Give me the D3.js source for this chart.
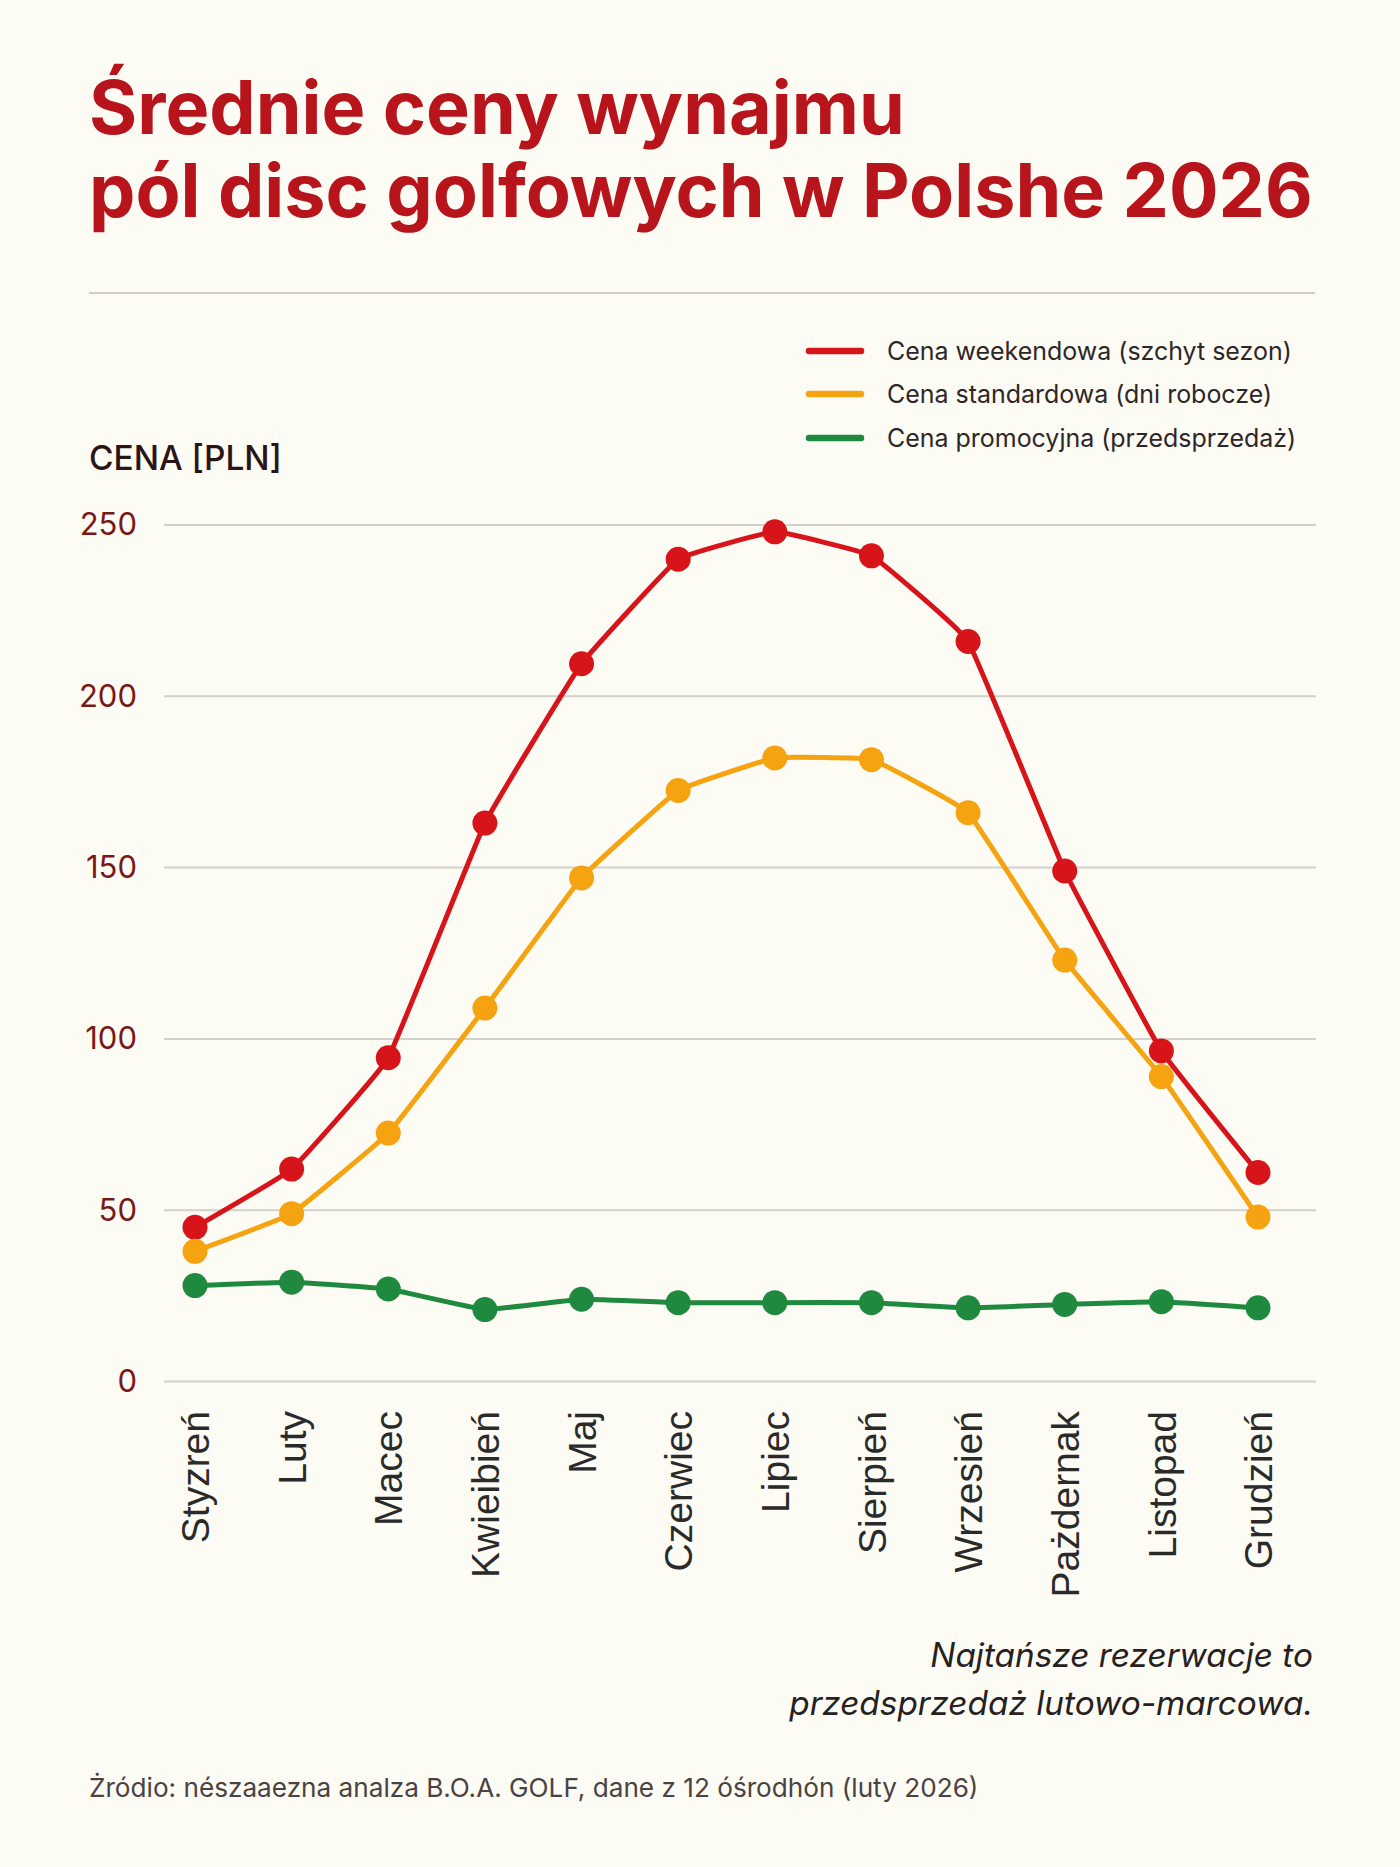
<!DOCTYPE html>
<html>
<head>
<meta charset="utf-8">
<script src="https://cdn.jsdelivr.net/npm/d3@7"></script>
<style>
    html, body { margin: 0; padding: 0; background: #fcfbf4; }
    svg { display: block; }
</style>
</head>
<body>
<div id="chartDiv"></div>
<script>
/*****************************************************************************/
/* Data */
/*****************************************************************************/
var months = ["Styzreń", "Luty", "Macec", "Kwieibień", "Maj", "Czerwiec",
    "Lipiec", "Sierpień", "Wrzesień", "Pażdernak", "Listopad", "Grudzień"];
var weekendPrices = [45, 62, 94.5, 163, 209.5, 240, 248, 241, 216, 149, 96.5, 61];
var standardPrices = [38, 49, 72.5, 109, 147, 172.5, 182, 181.5, 166, 123, 89, 48];
var promoPrices = [28, 29, 27, 21, 24, 23, 23, 23, 21.5, 22.5, 23.3, 21.5];
var seriesNames = ["Cena weekendowa (szchyt sezon)", "Cena standardowa (dni robocze)",
    "Cena promocyjna (przedsprzedaż)"];
var yTicks = [0, 50, 100, 150, 200, 250];

/*****************************************************************************/
/* Setup */
/*****************************************************************************/
var width = 1400;
var height = 1867;
var colors = ["#d8141b", "#f6a312", "#1f8a3f"];
var textFont = "Inter, 'Liberation Sans', sans-serif";

var svg = d3.select("#chartDiv").append("svg")
    .attr("width", width)
    .attr("height", height);

svg.append("rect")
    .attr("width", width)
    .attr("height", height)
    .attr("fill", "#fcfbf4");

// Font size that makes a text element as wide as targetWidth
var fitSize = function(sel, targetWidth) {
    var size = parseFloat(sel.style("font-size"));
    var w = sel.node().getComputedTextLength();
    return size * targetWidth / w;
}
var fitText = function(sel, targetWidth) {
    var s = fitSize(sel, targetWidth);
    sel.style("font-size", s + "px");
    return s;
}

// Title
var title1 = svg.append("text")
    .attr("x", 89).attr("y", 134)
    .style("font-family", textFont)
    .style("font-weight", "700")
    .style("font-size", "60px")
    .style("fill", "#b8141c")
    .text("Średnie ceny wynajmu");
var title2 = svg.append("text")
    .attr("x", 89).attr("y", 217)
    .style("font-family", textFont)
    .style("font-weight", "700")
    .style("font-size", "60px")
    .style("fill", "#b8141c")
    .text("pól disc golfowych w Polshe 2026");
var titleSize = fitText(title2, 1224);
title1.style("font-size", titleSize + "px");

// Separator
svg.append("line")
    .attr("x1", 89).attr("x2", 1315)
    .attr("y1", 293).attr("y2", 293)
    .attr("stroke", "#cfcdc6")
    .attr("stroke-width", 2);

// Scales
var x = d3.scalePoint()
    .domain(months)
    .range([195, 1258]);
var y = d3.scaleLinear()
    .domain([0, 250])
    .range([1381.5, 525]);

// Grid lines
svg.append("g").selectAll("line")
    .data(yTicks)
    .enter()
    .append("line")
    .attr("x1", 164).attr("x2", 1316)
    .attr("y1", function(d) { return y(d); })
    .attr("y2", function(d) { return y(d); })
    .attr("stroke", "#d3d1cb")
    .attr("stroke-width", 2);

// Y axis labels
var yAxis = svg.append("g")
    .attr("transform", "translate(137,0)")
    .call(d3.axisLeft(y).tickValues(yTicks).tickSize(0).tickPadding(0));
yAxis.select(".domain").remove();
yAxis.selectAll("text")
    .style("font-family", textFont)
    .style("font-size", "31px")
    .style("fill", "#7a1818");

// Axis title
var axisTitle = svg.append("text")
    .attr("x", 89).attr("y", 470)
    .style("font-family", textFont)
    .style("font-weight", "500")
    .style("font-size", "30px")
    .style("fill", "#2b1414")
    .text("CENA [PLN]");
fitText(axisTitle, 193);

// X axis labels
var xAxis = svg.append("g")
    .attr("transform", "translate(0,1411)")
    .call(d3.axisBottom(x).tickSize(0).tickPadding(0));
xAxis.select(".domain").remove();
xAxis.selectAll("text")
    .attr("transform", "rotate(-90)")
    .attr("x", 0)
    .attr("y", 0)
    .attr("dy", "0.35em")
    .style("text-anchor", "end")
    .style("font-family", "'Liberation Sans', Arial, sans-serif")
    .style("font-size", "39px")
    .style("fill", "#2a2a2a");

// Lines and points
var line = d3.line()
    .x(function(d, i) { return x(months[i]); })
    .y(function(d) { return y(d); })
    .curve(d3.curveCardinal.tension(0.75));

var allSeries = [weekendPrices, standardPrices, promoPrices];
allSeries.forEach(function(values, s) {
    var g = svg.append("g");
    g.append("path")
        .attr("d", line(values))
        .attr("fill", "none")
        .attr("stroke", colors[s])
        .attr("stroke-width", 5)
        .attr("stroke-linejoin", "round");
    g.selectAll("circle")
        .data(values)
        .enter()
        .append("circle")
        .attr("cx", function(d, i) { return x(months[i]); })
        .attr("cy", function(d) { return y(d); })
        .attr("r", 12.5)
        .attr("fill", colors[s]);
});

// Legend
var legendY = [351, 394, 438];
var legend = svg.append("g");
var legendTexts = [];
seriesNames.forEach(function(name, i) {
    legend.append("line")
        .attr("x1", 809).attr("x2", 861)
        .attr("y1", legendY[i]).attr("y2", legendY[i])
        .attr("stroke", colors[i])
        .attr("stroke-width", 6.5)
        .attr("stroke-linecap", "round");
    legendTexts.push(legend.append("text")
        .attr("x", 887).attr("y", legendY[i])
        .attr("dy", "0.35em")
        .style("font-family", textFont)
        .style("font-size", "24px")
        .style("fill", "#2e2626")
        .text(name));
});
// Average size over the three widths
var legendWidths = [398, 393, 408];
var legendSize = d3.mean(legendTexts, function(t, i) { return fitSize(t, legendWidths[i]); });
legendTexts.forEach(function(t) { t.style("font-size", legendSize + "px"); });

// Annotation
var note1 = svg.append("text")
    .attr("x", 1313).attr("y", 1667)
    .style("text-anchor", "end")
    .style("font-family", textFont)
    .style("font-style", "italic")
    .style("font-size", "31px")
    .style("fill", "#262020")
    .text("Najtańsze rezerwacje to");
var note2 = svg.append("text")
    .attr("x", 1313).attr("y", 1715)
    .style("text-anchor", "end")
    .style("font-family", textFont)
    .style("font-style", "italic")
    .style("font-size", "31px")
    .style("fill", "#262020")
    .text("przedsprzedaż lutowo-marcowa.");
var noteSize = (fitSize(note1, 396) + fitSize(note2, 506)) / 2;
note1.style("font-size", noteSize + "px");
note2.style("font-size", noteSize + "px");

// Source
var source = svg.append("text")
    .attr("x", 89).attr("y", 1797)
    .style("font-family", textFont)
    .style("font-size", "24px")
    .style("fill", "#4a4242")
    .text("Żródio: nészaaezna analza B.O.A. GOLF, dane z 12 óśrodhón (luty 2026)");
fitText(source, 890);
</script>
</body>
</html>
